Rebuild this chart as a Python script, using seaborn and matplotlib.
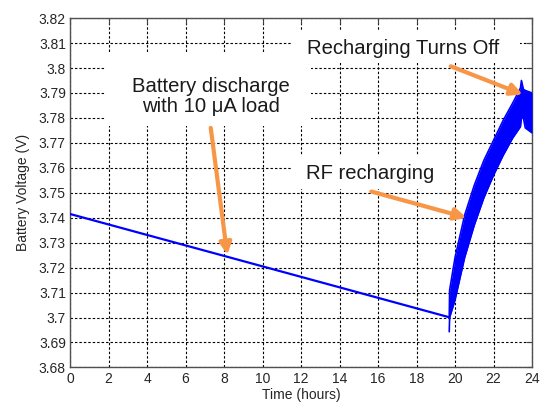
import matplotlib
matplotlib.use("Agg")
import matplotlib.pyplot as plt
import seaborn as sns
import pandas as pd
from matplotlib.patches import Rectangle
from matplotlib.ticker import FixedLocator, FuncFormatter

# Battery discharge under a constant 10 uA load
discharge_t = [0.0, 5.0, 10.0, 15.0, 19.70]
discharge_v = [3.7415, 3.7310, 3.7205, 3.7100, 3.7001]

# RF recharging: ripple envelope (upper / lower) of the battery voltage
charge_t = [19.70, 19.72, 20.00, 20.50, 21.00, 21.50, 22.00, 22.50,
            23.00, 23.40, 23.45, 23.55, 23.65, 24.00]
charge_top = [3.7001, 3.7110, 3.7240, 3.7410, 3.7530, 3.7630, 3.7710, 3.7790,
              3.7860, 3.7920, 3.7950, 3.7915, 3.7910, 3.7900]
charge_bottom = [3.6943, 3.7000, 3.7070, 3.7240, 3.7370, 3.7480, 3.7570, 3.7650,
                 3.7720, 3.7765, 3.7800, 3.7800, 3.7760, 3.7740]

x_ticks = list(range(0, 25, 2))
y_ticks = [3.68, 3.69, 3.70, 3.71, 3.72, 3.73, 3.74, 3.75, 3.76, 3.77,
           3.78, 3.79, 3.80, 3.81, 3.82]

sns.set_style("white")
plt.rcParams["font.family"] = ["Liberation Sans", "DejaVu Sans"]

BLUE = "#0000ff"
ORANGE = "#f79646"

fig = plt.figure(figsize=(5.41, 4.05), dpi=100)
fig.patch.set_facecolor("white")
ax = fig.add_axes([0.1294, 0.0928, 0.8540, 0.8625])
ax.set_axisbelow(True)

dis = pd.DataFrame({"t": discharge_t, "v": discharge_v})
chg = pd.DataFrame({"t": charge_t, "top": charge_top, "bottom": charge_bottom})

sns.lineplot(data=dis, x="t", y="v", ax=ax, color=BLUE, lw=1.6, zorder=3)
ax.fill_between(chg["t"], chg["bottom"], chg["top"], color=BLUE, lw=0, zorder=3)
sns.lineplot(data=chg, x="t", y="top", ax=ax, color=BLUE, lw=1.2, zorder=3)
sns.lineplot(data=chg, x="t", y="bottom", ax=ax, color=BLUE, lw=1.2, zorder=3)

ax.set_xlim(0, 24)
ax.set_ylim(3.68, 3.82)
ax.xaxis.set_major_locator(FixedLocator(x_ticks))
ax.yaxis.set_major_locator(FixedLocator(y_ticks))
ax.yaxis.set_major_formatter(FuncFormatter(lambda v, p: f"{v:g}"))
ax.grid(True, color="black", linestyle=(0, (2.2, 1.8)), linewidth=0.8)
ax.tick_params(direction="in", top=True, right=True, length=4, width=0.8,
               labelsize=10, labelcolor="#262626", color="#404040", pad=3)
for s in ax.spines.values():
    s.set_color("#505050")
    s.set_linewidth(1.0)

ax.set_xlabel("Time (hours)", fontsize=10, color="#262626", labelpad=2)
ax.set_ylabel("Battery Voltage (V)", fontsize=10, color="#262626", labelpad=6)

# white callout boxes that hide the grid behind the annotations
for (x0, x1, y0, y1) in [(1.81, 12.54, 3.7768, 3.8060),
                         (11.51, 23.38, 3.8020, 3.8148),
                         (11.46, 19.82, 3.7515, 3.7651)]:
    ax.add_patch(Rectangle((x0, y0), x1 - x0, y1 - y0, facecolor="white",
                           edgecolor="none", zorder=1.5, clip_on=False))

txt = dict(fontsize=14.6, color="#1a1a1a", ha="center", va="center", zorder=4)
ax.text(7.33, 3.7885, "Battery discharge\nwith 10 \u03bcA load", linespacing=1.1, **txt)
ax.text(17.29, 3.8079, "Recharging Turns Off", **txt)
ax.text(15.59, 3.7578, "RF recharging", **txt)

arrow = dict(arrowstyle="-|>,head_length=0.7,head_width=0.35", color=ORANGE,
             lw=3, shrinkA=0, shrinkB=0)
ax.annotate("", xy=(8.17, 3.7251), xytext=(7.31, 3.7760), arrowprops=arrow, zorder=5)
ax.annotate("", xy=(20.60, 3.7400), xytext=(15.65, 3.7505), arrowprops=arrow, zorder=5)
ax.annotate("", xy=(23.52, 3.7894), xytext=(19.78, 3.8007), arrowprops=arrow, zorder=5)

fig.savefig("out.png", dpi=100)
